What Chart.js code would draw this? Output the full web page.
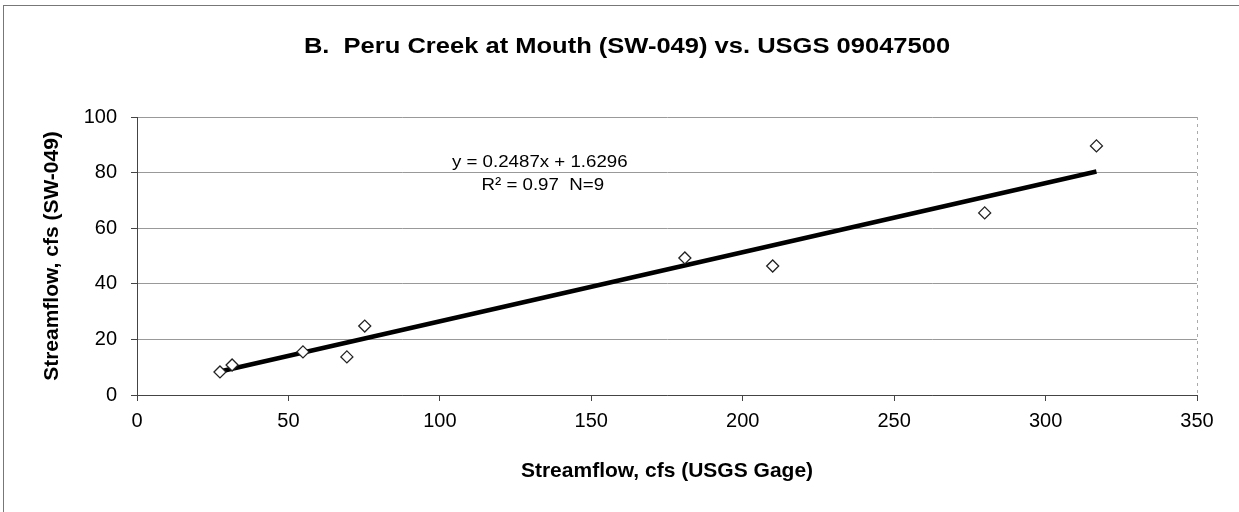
<!DOCTYPE html>
<html>
<head>
<meta charset="utf-8">
<script src="https://cdn.jsdelivr.net/npm/chart.js@4.4.1/dist/chart.umd.min.js"></script>
<style>
  html, body { margin: 0; padding: 0; background: #fff; }
  #wrap { width: 1239px; height: 512px; position: relative; }
</style>
</head>
<body>
<div id="wrap"><canvas id="chart" width="1239" height="512"></canvas></div>
<script>
// Datos
const flowUsgs = [27.4, 31.4, 54.8, 69.3, 75.2, 180.9, 209.9, 279.9, 316.8];
const flowSw049 = [8.3, 10.8, 15.5, 13.7, 24.8, 49.3, 46.4, 65.5, 89.6];
const slope = 0.2487;
const intercept = 1.6296;
const xTicks = [0, 50, 100, 150, 200, 250, 300, 350];
const yTicks = [0, 20, 40, 60, 80, 100];

const titleText = 'B.  Peru Creek at Mouth (SW-049) vs. USGS 09047500';
const eqLine1 = 'y = 0.2487x + 1.6296';
const eqLine2 = 'R² = 0.97  N=9';

const FONT = '"Liberation Sans", Arial, sans-serif';

const points = flowUsgs.map(function(x, i) { return { x: x, y: flowSw049[i] }; });
const xMin = Math.min.apply(null, flowUsgs);
const xMax = Math.max.apply(null, flowUsgs);
const trend = [
    { x: xMin, y: slope * xMin + intercept },
    { x: xMax, y: slope * xMax + intercept }
];

// Texto algo ensanchado, como en la imagen original
function wideText(ctx, text, x, y, sx) {
    ctx.save();
    ctx.translate(x, y);
    ctx.scale(sx, 1);
    ctx.fillText(text, 0, 0);
    ctx.restore();
}

// Plugin para titulo, ecuacion y marco
const decorPlugin = {
    id: 'decor',
    beforeDraw: function(chart) {
        const ctx = chart.ctx;
        ctx.save();
        ctx.fillStyle = '#fff';
        ctx.fillRect(0, 0, chart.width, chart.height);
        ctx.strokeStyle = '#777';
        ctx.lineWidth = 1;
        ctx.beginPath();
        ctx.moveTo(3.5, 6);
        ctx.lineTo(3.5, chart.height);
        ctx.moveTo(3, 5.5);
        ctx.lineTo(chart.width, 5.5);
        ctx.stroke();
        // borde derecho del area del grafico
        const a = chart.chartArea;
        ctx.setLineDash([3, 4]);
        ctx.strokeStyle = '#aaa';
        ctx.beginPath();
        ctx.moveTo(a.right + 0.5, a.top);
        ctx.lineTo(a.right + 0.5, a.bottom);
        ctx.stroke();
        ctx.restore();
    },
    afterDraw: function(chart) {
        const ctx = chart.ctx;
        ctx.save();
        ctx.fillStyle = '#000';
        ctx.textAlign = 'center';
        ctx.textBaseline = 'middle';
        ctx.font = 'bold 22px ' + FONT;
        wideText(ctx, titleText, 627, 47, 1.16);

        const xs = chart.scales.x;
        const ys = chart.scales.y;
        const cx = xs.getPixelForValue(133);
        ctx.font = '17px ' + FONT;
        wideText(ctx, eqLine1, cx, ys.getPixelForValue(83.8), 1.1);
        wideText(ctx, eqLine2, cx + 3, ys.getPixelForValue(75.5), 1.1);
        ctx.restore();
    }
};

new Chart(document.getElementById('chart'), {
    type: 'scatter',
    data: {
        datasets: [{
            label: 'SW-049',
            data: points,
            pointStyle: 'rectRot',
            pointRadius: 6,
            pointBackgroundColor: '#fff',
            pointBorderColor: '#222',
            pointBorderWidth: 1.3,
            order: 1
        }, {
            label: 'Trend',
            type: 'line',
            data: trend,
            borderColor: '#000',
            borderWidth: 4.5,
            pointRadius: 0,
            fill: false,
            order: 2
        }]
    },
    options: {
        responsive: false,
        animation: false,
        layout: { padding: { left: 40, right: 42, top: 117, bottom: 28 } },
        plugins: {
            legend: { display: false },
            title: { display: false },
            tooltip: { enabled: false }
        },
        scales: {
            x: {
                type: 'linear',
                min: 0,
                max: 350,
                afterBuildTicks: function(scale) {
                    scale.ticks = xTicks.map(function(v) { return { value: v }; });
                },
                afterFit: function(scale) { scale.height = 89; },
                grid: { color: 'transparent', tickColor: '#444', tickLength: 6, drawOnChartArea: false },
                border: { display: true, color: '#444', dash: [4, 3] },
                ticks: { color: '#000', font: { family: FONT, size: 20 }, padding: 8 },
                title: {
                    display: true,
                    text: 'Streamflow, cfs (USGS Gage)',
                    color: '#000',
                    font: { family: FONT, size: 21, weight: 'bold' },
                    padding: { top: 0, bottom: 0 }
                }
            },
            y: {
                type: 'linear',
                min: 0,
                max: 100,
                afterBuildTicks: function(scale) {
                    scale.ticks = yTicks.map(function(v) { return { value: v }; });
                },
                afterFit: function(scale) { scale.width = 97; },
                grid: { color: '#999', tickColor: '#444', tickLength: 6 },
                border: { display: true, color: '#444' },
                ticks: { color: '#000', font: { family: FONT, size: 20 }, padding: 14 },
                title: {
                    display: true,
                    text: 'Streamflow, cfs (SW-049)',
                    color: '#000',
                    font: { family: FONT, size: 21, weight: 'bold' },
                    padding: { top: 0, bottom: 0 }
                }
            }
        }
    },
    plugins: [decorPlugin]
});
</script>
</body>
</html>
